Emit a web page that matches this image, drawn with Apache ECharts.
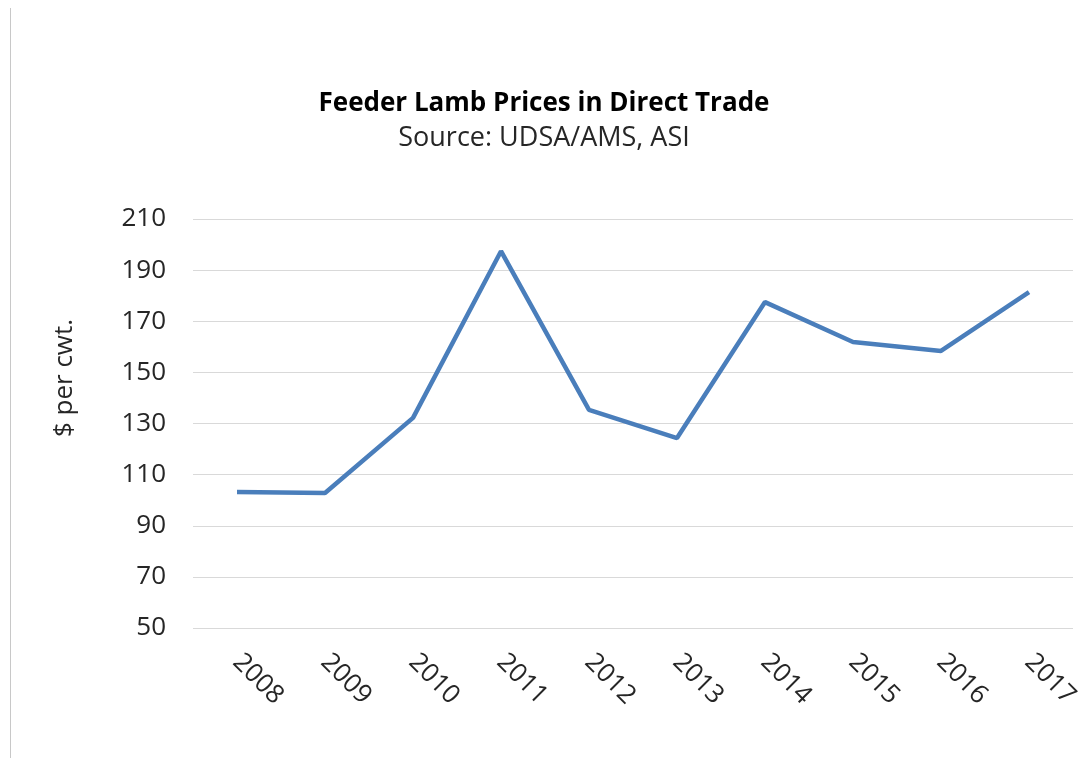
<!DOCTYPE html>
<html>
<head>
<meta charset="utf-8">
<script src="https://cdn.jsdelivr.net/npm/echarts@6/dist/echarts.min.js"></script>
<style>
  html, body { margin: 0; padding: 0; background: #fff; }
  #chart { width: 1088px; height: 758px; }
</style>
</head>
<body>
<div id="chart"></div>
<script>
const years = ['2008', '2009', '2010', '2011', '2012', '2013', '2014', '2015', '2016', '2017']
const prices = [103.2, 102.8, 132.2, 197.4, 135.3, 124.3, 177.5, 161.9, 158.4, 181.4]
const yTicks = { min: 50, max: 210, step: 20 }

const font = '"Open Sans", "Noto Sans", sans-serif'
const textColor = '#262626'

const myChart = echarts.init(document.getElementById('chart'))

const option = {
  backgroundColor: '#fff',
  animation: false,
  title: {
    text: 'Feeder Lamb Prices in Direct Trade',
    subtext: 'Source: UDSA/AMS, ASI',
    left: 'center',
    top: 86,
    itemGap: 8,
    padding: [5, 5, 5, 19], // nudge the centred block a little to the right
    textStyle: { fontFamily: font, fontSize: 26, fontWeight: 'bold', color: '#000' },
    subtextStyle: { fontFamily: font, fontSize: 27, color: textColor }
  },
  graphic: [
    {
      type: 'line',
      shape: { x1: 10.5, y1: 8, x2: 10.5, y2: 758 },
      style: { stroke: '#c8c8c8', lineWidth: 1 }
    },
    {
      type: 'text',
      x: 65,
      y: 378,
      rotation: Math.PI / 2,
      style: {
        text: '$ per cwt.',
        align: 'center',
        verticalAlign: 'middle',
        fontFamily: font,
        fontSize: 26,
        fill: textColor
      }
    }
  ],
  grid: { left: 193, right: 15, top: 219, bottom: 130 },
  xAxis: {
    type: 'category',
    data: years,
    boundaryGap: true,
    axisLine: { show: false },
    axisTick: { show: false },
    axisLabel: {
      rotate: -45,
      margin: 30,
      fontFamily: font,
      fontSize: 26,
      color: textColor
    }
  },
  yAxis: {
    type: 'value',
    min: yTicks.min,
    max: yTicks.max,
    interval: yTicks.step,
    axisLine: { show: false },
    axisTick: { show: false },
    splitLine: { lineStyle: { color: '#d9d9d9', width: 1 } },
    axisLabel: {
      margin: 27,
      fontFamily: font,
      fontSize: 26,
      color: textColor
    }
  },
  series: [
    {
      type: 'line',
      data: prices,
      symbol: 'none',
      lineStyle: { color: '#4a7ebb', width: 4.5 },
      itemStyle: { color: '#4a7ebb' }
    }
  ]
}

option && myChart.setOption(option)
</script>
</body>
</html>
